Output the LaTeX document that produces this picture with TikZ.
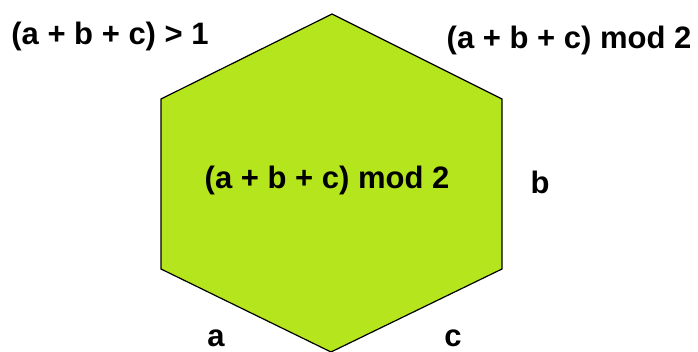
\documentclass[tikz,border=0pt]{standalone}
\usepackage{fontspec}
\setmainfont{Liberation Sans}
\definecolor{limefill}{RGB}{181,230,29}
\tikzset{
	lbl/.style={font=\fontsize{31}{35}\selectfont\bfseries, inner sep=0pt},
	hexface/.style={fill=limefill, draw=black, line width=1.2pt, line join=miter},
}
\begin{document}
\begin{tikzpicture}[x=1pt,y=-1pt]
			\useasboundingbox (0,0) rectangle (698,352);
			% Eckpunkte
			\coordinate (T) at (332,14);
			\coordinate (UR) at (502,99);
			\coordinate (LR) at (502,269);
			\coordinate (B) at (331,352);
			\coordinate (LL) at (161,269);
			\coordinate (UL) at (161,99);
			\filldraw[hexface] (T) -- (UR) -- (LR) -- (B) -- (LL) -- (UL) -- cycle;
			\node[lbl] (sum) at (327,180) {(a + b + c) mod 2};
			\node[lbl] (gt) at (110,36) {(a + b + c) > 1};
			\node[lbl] (carry) at (569,40) {(a + b + c) mod 2};
			\node[lbl] (b) at (540,182) {b};
			\node[lbl] (a) at (216,338) {a};
			\node[lbl] (c) at (453,338) {c};
		\end{tikzpicture}
\end{document}
